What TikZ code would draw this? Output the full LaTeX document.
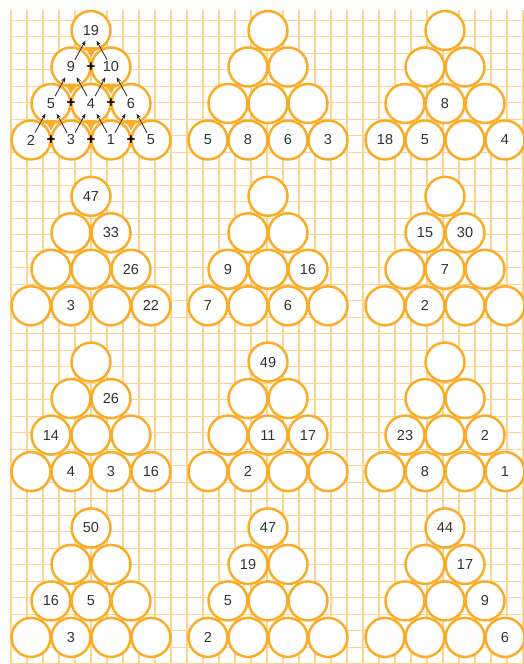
\documentclass[tikz,border=0pt]{standalone}
\usepackage{fontspec}
\setmainfont{Liberation Sans}
\usetikzlibrary{arrows.meta,calc}
\definecolor{gridc}{RGB}{255,212,140}
\definecolor{circc}{RGB}{250,172,40}
\definecolor{numc}{RGB}{50,50,50}
\tikzset{
  gridline/.style={draw=gridc,line width=1.3pt},
  ball/.style={circle,draw=circc,line width=2.5pt,fill=white,minimum size=39pt,inner sep=0pt,
    text=numc,font=\fontsize{14.5}{14.5}\selectfont},
  plusmark/.style={inner sep=0pt,font=\bfseries\fontsize{15}{15}\selectfont,text=black},
  sumarrow/.style={draw=black!85,line width=0.8pt,-{Stealth[length=5pt,width=4pt]}},
  gaptri/.style={fill=circc}
}
\newcommand\pyr[7]{%
  \foreach \lab [count=\k from 0] in {#4} \node[ball] (#1-0-\k) at ({#2},{#3}) {\lab};
  \foreach \lab [count=\k from 0] in {#5} \node[ball] (#1-1-\k) at ({#2-20+40*\k},{#3+36.5}) {\lab};
  \foreach \lab [count=\k from 0] in {#6} \node[ball] (#1-2-\k) at ({#2-40+40*\k},{#3+73}) {\lab};
  \foreach \lab [count=\k from 0] in {#7} \node[ball] (#1-3-\k) at ({#2-60+40*\k},{#3+109.5}) {\lab};
}
\begin{document}
\begin{tikzpicture}[x=1pt,y=-1pt]
\useasboundingbox (0,0) rectangle (523,664);
% graph paper
\foreach \i in {0,...,32} \draw[gridline] ({11+16*\i},10) -- ({11+16*\i},664);
\foreach \j in {0,...,39} \draw[gridline] (10,{20.2+16.5*\j}) -- (523,{20.2+16.5*\j});
% row 1
\pyr{a}{91}{30.5}{19}{9,10}{5,4,6}{2,3,1,5}
\pyr{b}{268}{30.5}{{}}{{},{}}{{},{},{}}{5,8,6,3}
\pyr{c}{445}{30.5}{{}}{{},{}}{{},8,{}}{18,5,{},4}
% row 2
\pyr{d}{91}{196.3}{47}{{},33}{{},{},26}{{},3,{},22}
\pyr{e}{268}{196.3}{{}}{{},{}}{9,{},16}{7,{},6,{}}
\pyr{f}{445}{196.3}{{}}{15,30}{{},7,{}}{{},2,{},{}}
% row 3
\pyr{g}{91}{362.1}{{}}{{},26}{14,{},{}}{{},4,3,16}
\pyr{h}{268}{362.1}{49}{{},{}}{{},11,17}{{},2,{},{}}
\pyr{i}{445}{362.1}{{}}{{},{}}{23,{},2}{{},8,{},1}
% row 4
\pyr{j}{91}{527.9}{50}{{},{}}{16,5,{}}{{},3,{},{}}
\pyr{k}{268}{527.9}{47}{19,{}}{5,{},{}}{2,{},{},{}}
\pyr{l}{445}{527.9}{44}{{},17}{{},{},9}{{},{},{},6}
% worked example: gap triangles
\foreach \n in {a-0-0,a-1-0,a-1-1,a-2-0,a-2-1,a-2-2}
  \fill[gaptri] ([shift={(-6,16.5)}]\n.center) -- ([shift={(6,16.5)}]\n.center) -- ([shift={(0,27)}]\n.center) -- cycle;
% plus signs
\node[plusmark] (pa10) at ($(a-1-0)!0.5!(a-1-1)$) {+};
\node[plusmark] (pa20) at ($(a-2-0)!0.5!(a-2-1)$) {+};
\node[plusmark] (pa21) at ($(a-2-1)!0.5!(a-2-2)$) {+};
\node[plusmark] (pa30) at ($(a-3-0)!0.5!(a-3-1)$) {+};
\node[plusmark] (pa31) at ($(a-3-1)!0.5!(a-3-2)$) {+};
\node[plusmark] (pa32) at ($(a-3-2)!0.5!(a-3-3)$) {+};
% arrows
\foreach \lo/\up in {a-1-0/a-0-0,a-1-1/a-0-0,
  a-2-0/a-1-0,a-2-1/a-1-0,a-2-1/a-1-1,a-2-2/a-1-1,
  a-3-0/a-2-0,a-3-1/a-2-0,a-3-1/a-2-1,a-3-2/a-2-1,a-3-2/a-2-2,a-3-3/a-2-2}
  \draw[sumarrow] ($(\lo)!0.2!(\up)$) -- ($(\lo)!0.72!(\up)$);
\end{tikzpicture}
\end{document}
